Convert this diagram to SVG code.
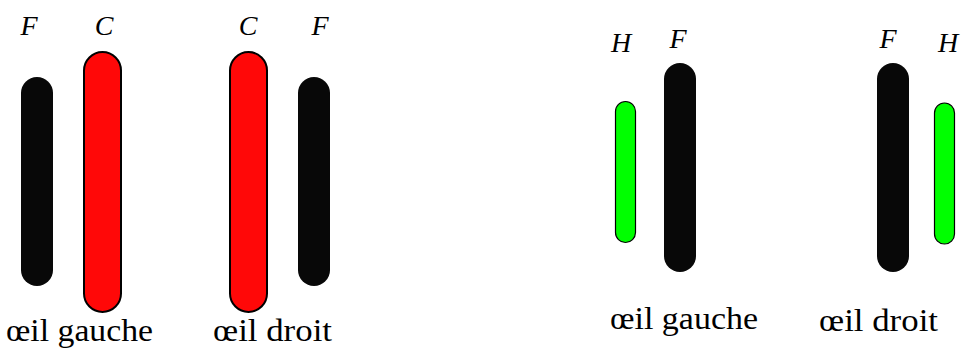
<svg xmlns="http://www.w3.org/2000/svg" width="961" height="353" viewBox="0 0 961 353">
<style>
.lbl{font-family:'Liberation Serif','Times New Roman',serif;font-style:italic;font-size:28px;fill:#000;text-anchor:middle}
.cap{font-family:'Liberation Serif','Times New Roman',serif;font-size:31px;fill:#000}
.blk{fill:#080808;stroke:none}
.red{fill:#ff0808;stroke:#000;stroke-width:2}
.grn{fill:#00ff00;stroke:#000;stroke-width:1.2}
</style>
<rect width="961" height="353" fill="#fff"/>
<g id="left-F-gauche"><rect class="blk" x="21" y="77" width="32" height="209" rx="16"/><text class="lbl" x="29" y="35">F</text></g>
<g id="left-C-gauche"><rect class="red" x="84" y="52" width="37" height="260" rx="18.5"/><text class="lbl" x="104" y="35">C</text></g>
<g id="left-C-droit"><rect class="red" x="230" y="52" width="37" height="260" rx="18.5"/><text class="lbl" x="248" y="35">C</text></g>
<g id="left-F-droit"><rect class="blk" x="298" y="77" width="32" height="209" rx="16"/><text class="lbl" x="320" y="35">F</text></g>
<g id="left-captions"><text class="cap" x="6" y="341" textLength="147" lengthAdjust="spacingAndGlyphs">œil gauche</text><text class="cap" x="213" y="341" textLength="119" lengthAdjust="spacingAndGlyphs">œil droit</text></g>
<g id="right-H-gauche"><rect class="grn" x="615.5" y="101.5" width="20" height="141" rx="10"/><text class="lbl" x="621" y="52">H</text></g>
<g id="right-F-gauche"><rect class="blk" x="664" y="63" width="32" height="209" rx="16"/><text class="lbl" x="678" y="48">F</text></g>
<g id="right-F-droit"><rect class="blk" x="877" y="63" width="32" height="209" rx="16"/><text class="lbl" x="888" y="48">F</text></g>
<g id="right-H-droit"><rect class="grn" x="934.5" y="103" width="20" height="141" rx="10"/><text class="lbl" x="948" y="52">H</text></g>
<g id="right-captions"><text class="cap" x="610" y="329" textLength="148" lengthAdjust="spacingAndGlyphs">œil gauche</text><text class="cap" x="819" y="331" textLength="119" lengthAdjust="spacingAndGlyphs">œil droit</text></g>
<g id="connectors"></g>
</svg>
